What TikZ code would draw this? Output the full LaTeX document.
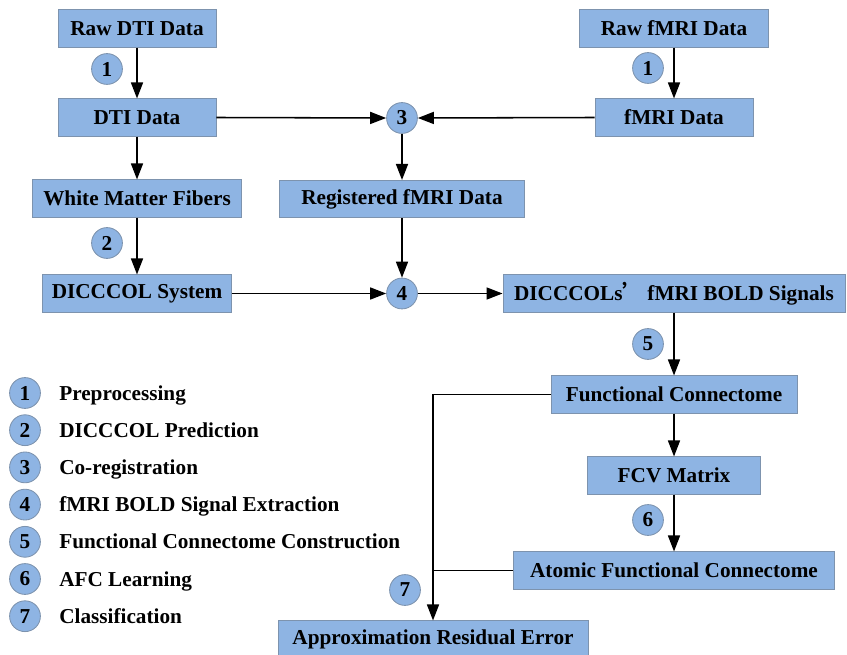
\documentclass[tikz,border=0pt]{standalone}
\usepackage{fontspec}
\setmainfont{Liberation Serif}
\newfontfamily\cjk{Noto Sans CJK SC}
\usetikzlibrary{arrows.meta}
\definecolor{boxfill}{HTML}{8EB4E3}
\definecolor{boxline}{HTML}{7D93AE}
\tikzset{
  block/.style={draw=boxline, fill=boxfill, line width=0.6pt, inner sep=0pt,
    minimum height=0.93cm, font=\fontsize{15.1}{17}\selectfont\bfseries},
  stepnum/.style={circle, draw=boxline, fill=boxfill, line width=0.6pt, inner sep=0pt,
    minimum size=0.77cm, font=\fontsize{15.1}{17}\selectfont\bfseries},
  legtext/.style={anchor=base west, inner sep=0pt, font=\fontsize{15.1}{17}\selectfont\bfseries},
  arr/.style={line width=1.1pt, -{Triangle[length=0.4cm,width=0.3cm]}},
  plain/.style={line width=1.1pt},
}
\begin{document}
\begin{tikzpicture}[x=0.025cm, y=-0.025cm]
	\useasboundingbox (0,0) rectangle (847,655);
	% left column
	\node [block, minimum width=3.95cm] (rawdti) at (137,28.5) {Raw DTI Data};
	\node [block, minimum width=3.95cm] (dti) at (137,117.5) {DTI Data};
	\node [block, minimum width=5.225cm] (wmf) at (137,198.5) {White Matter Fibers};
	\node [block, minimum width=4.725cm] (dsys) at (137,293.5) {DICCCOL System};
	% middle and right
	\node [block, minimum width=4.725cm] (rawfmri) at (674,28.5) {Raw fMRI Data};
	\node [block, minimum width=3.95cm] (fmri) at (674,117.5) {fMRI Data};
	\node [block, minimum width=6.125cm] (reg) at (402,199) {Registered fMRI Data};
	\node [block, minimum width=8.55cm] (bold) at (674,293.5) {DICCCOLs{\cjk ’}\,fMRI BOLD Signals};
	\node [block, minimum width=6.15cm] (fc) at (674,394.5) {Functional Connectome};
	\node [block, minimum width=4.325cm] (fcv) at (674,475.5) {FCV Matrix};
	\node [block, minimum width=8.025cm] (afc) at (674,570.5) {Atomic Functional Connectome};
	\node [block, minimum width=7.75cm] (are) at (433,639.5) {Approximation Residual Error};
	% step circles
	\node [stepnum] (s1a) at (107,69) {1};
	\node [stepnum] (s1b) at (648,68) {1};
	\node [stepnum] (s2) at (107,243) {2};
	\node [stepnum] (s3) at (402,118) {3};
	\node [stepnum] (s4) at (402,293.5) {4};
	\node [stepnum] (s5) at (648,344) {5};
	\node [stepnum] (s6) at (648,520) {6};
	\node [stepnum] (s7) at (405,590) {7};
	% connectors
	\draw [arr] (rawdti) -- (dti);
	\draw [arr] (dti) -- (wmf);
	\draw [arr] (wmf) -- (dsys);
	\draw [arr] (rawfmri) -- (fmri);
	\draw [arr] (dti.east) -- (s3.west);
	\draw [arr] (fmri.west) -- (s3.east);
	\draw [arr] (s3) -- (s3 |- reg.north);
	\draw [arr] (reg.south -| s4) -- (s4);
	\draw [arr] (dsys.east) -- (s4.west);
	\draw [arr] (s4.east) -- (bold.west);
	\draw [arr] (bold) -- (fc);
	\draw [arr] (fc) -- (fcv);
	\draw [arr] (fcv) -- (afc);
	\draw [arr] (fc.west) -| (are.north);
	\draw [plain] (afc.west) -- (are.north |- afc.west);
	% legend
	\foreach \i/\txt in {1/Preprocessing, 2/DICCCOL Prediction, 3/Co-registration,
		4/fMRI BOLD Signal Extraction, 5/Functional Connectome Construction,
		6/AFC Learning, 7/Classification}
	{
		\node [stepnum] (l\i) at (25,{393+(\i-1)*37.2}) {\i};
		\node [legtext] (t\i) at (59,{400+(\i-1)*37.2}) {\txt};
	}
\end{tikzpicture}
\end{document}
